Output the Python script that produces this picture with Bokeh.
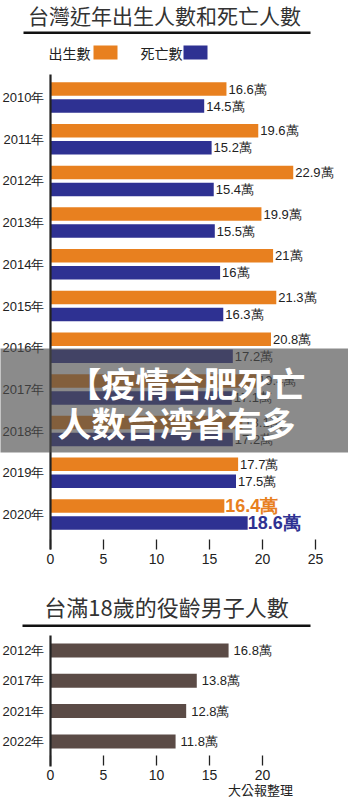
from bokeh.plotting import figure
from bokeh.layouts import column
from bokeh.models import Range1d, FixedTicker, Label, BoxAnnotation, LinearAxis
from bokeh.core.properties import value
from bokeh.embed import file_html
from bokeh.resources import INLINE

# ---------------- data ----------------
years = ["2010年", "2011年", "2012年", "2013年", "2014年", "2015年",
         "2016年", "2017年", "2018年", "2019年", "2020年"]
births = [16.6, 19.6, 22.9, 19.9, 21.0, 21.3, 20.8, 19.4, 18.1, 17.7, 16.4]
deaths = [14.5, 15.2, 15.4, 15.5, 16.0, 16.3, 17.2, 17.1, 17.2, 17.5, 18.6]
x_ticks = [0, 5, 10, 15, 20, 25]

conscript_years = ["2012年", "2017年", "2021年", "2022年"]
conscripts = [16.8, 13.8, 12.8, 11.8]
x_ticks2 = [0, 5, 10, 15, 20]

title1 = "台灣近年出生人數和死亡人數"
title2 = "台滿18歲的役齡男子人數"
legend_birth = "出生數"
legend_death = "死亡數"
source_note = "大公報整理"
overlay_lines = ["【疫情合肥死亡", "人数台湾省有多"]

ORANGE = "#e8801f"
BLUE = "#2e3192"
BROWN = "#5b4b46"
TXT = "#222222"
LAT = "Liberation Sans"
CJK = "Noto Sans CJK TC"

W = 348
PX = 10.6      # pixels per unit
X0 = 50        # pixel of x = 0


def xd(px):
    return (px - X0) / PX


def fmt(v):
    return f"{v:g}萬"


def make_axes(p, ticks, x_loc, y_bounds, cats):
    p.xgrid.visible = False
    p.ygrid.visible = False
    p.outline_line_color = None
    p.background_fill_color = "white"
    p.border_fill_color = "white"
    xa = LinearAxis(fixed_location=x_loc, ticker=FixedTicker(ticks=ticks))
    xa.axis_line_color = None
    xa.major_tick_in = 10
    xa.major_tick_out = 0
    xa.major_tick_line_color = TXT
    xa.major_tick_line_width = 1.3
    xa.minor_tick_line_color = None
    xa.major_label_standoff = 4
    xa.major_label_text_font = LAT
    xa.major_label_text_font_size = "14px"
    xa.major_label_text_color = TXT
    p.add_layout(xa, "below")
    idx = list(range(len(cats)))
    ya = LinearAxis(fixed_location=0, ticker=FixedTicker(ticks=idx), bounds=y_bounds)
    ya.major_label_overrides = {i: cats[i] for i in idx}
    ya.axis_line_color = TXT
    ya.axis_line_width = 2.2
    ya.major_tick_line_color = None
    ya.minor_tick_line_color = None
    ya.major_tick_in = 0
    ya.major_tick_out = 0
    ya.major_label_standoff = 6
    ya.major_label_text_font = LAT
    ya.major_label_text_font_size = "13px"
    ya.major_label_text_color = TXT
    p.add_layout(ya, "left")
    return idx


# ---------------- chart 1 ----------------
HB = 575
TOPB, BOTB = 74, 549
G0, GS = 97, 41.7


def yb(py):
    return (py - G0) / GS


OFF = 8.5 / GS
BH = 13.5 / GS

p1 = figure(width=W, height=HB, x_range=Range1d(xd(0), xd(W)),
            y_range=Range1d(yb(HB), yb(0)),
            output_backend="svg", toolbar_location=None,
            x_axis_location=None, y_axis_location=None,
            min_border=0)
idx = make_axes(p1, x_ticks, yb(BOTB), (yb(BOTB), yb(TOPB)), years)

yb_b = [i - OFF for i in idx]
yb_d = [i + OFF for i in idx]
p1.hbar(y=yb_b, left=0, right=births, height=BH, fill_color=ORANGE, line_color=None)
p1.hbar(y=yb_d, left=0, right=deaths, height=BH, fill_color=BLUE, line_color=None)

n = len(years) - 1
p1.text(x=births[:n], y=yb_b[:n], text=[fmt(v) for v in births[:n]], x_offset=2,
        text_baseline="middle", text_align="left", text_font=value(LAT),
        text_font_size="13px", text_color=TXT)
p1.text(x=deaths[:n], y=yb_d[:n], text=[fmt(v) for v in deaths[:n]], x_offset=2,
        text_baseline="middle", text_align="left", text_font=value(LAT),
        text_font_size="13px", text_color=TXT)
p1.text(x=births[n:], y=yb_b[n:], text=[fmt(v) for v in births[n:]], x_offset=1,
        text_baseline="middle", text_align="left", text_font=value(LAT),
        text_font_size="18px", text_font_style="bold", text_color=ORANGE)
p1.text(x=deaths[n:], y=yb_d[n:], text=[fmt(v) for v in deaths[n:]], x_offset=0,
        text_baseline="middle", text_align="left", text_font=value(LAT),
        text_font_size="18px", text_font_style="bold", text_color=BLUE)

# header
p1.add_layout(Label(x=xd(164), y=yb(14), text=title1, text_align="center",
                    text_baseline="middle", text_font=CJK, text_font_size="21px",
                    text_color="#333333"))
p1.add_layout(BoxAnnotation(left=xd(23), right=xd(310), top=yb(31), bottom=yb(33.5),
                            fill_color="#111111", fill_alpha=1, line_color=None))
p1.add_layout(Label(x=xd(48), y=yb(52), text=legend_birth, text_align="left",
                    text_baseline="middle", text_font=CJK, text_font_size="14px",
                    text_color="#222222"))
p1.add_layout(BoxAnnotation(left=xd(93), right=xd(117), top=yb(45), bottom=yb(59),
                            fill_color=ORANGE, fill_alpha=1, line_color=None))
p1.add_layout(Label(x=xd(140), y=yb(52), text=legend_death, text_align="left",
                    text_baseline="middle", text_font=CJK, text_font_size="14px",
                    text_color="#222222"))
p1.add_layout(BoxAnnotation(left=xd(183), right=xd(207), top=yb(45), bottom=yb(59),
                            fill_color=BLUE, fill_alpha=1, line_color=None))

# overlay banner
p1.add_layout(BoxAnnotation(left=xd(-10), right=xd(W + 10), top=yb(348), bottom=yb(452),
                            fill_color="#4d4d4d", fill_alpha=0.65, line_color=None,
                            level="overlay"))
p1.add_layout(Label(x=xd(67), y=yb(382), text=overlay_lines[0], text_align="left",
                    text_baseline="middle", text_font="Noto Sans CJK SC",
                    text_font_size="34px", text_font_style="bold", text_color="white",
                    level="overlay"))
p1.add_layout(Label(x=xd(57), y=yb(422), text=overlay_lines[1], text_align="left",
                    text_baseline="middle", text_font="Noto Sans CJK SC",
                    text_font_size="34px", text_font_style="bold", text_color="white",
                    level="overlay"))

# ---------------- chart 2 ----------------
HC = 800 - HB
G0C, GSC = 650, 30.3


def yc(py):
    return (py - G0C) / GSC


p2 = figure(width=W, height=HC, x_range=Range1d(xd(0), xd(W)),
            y_range=Range1d(yc(800), yc(HB)),
            output_backend="svg", toolbar_location=None,
            x_axis_location=None, y_axis_location=None,
            min_border=0)
idx2 = make_axes(p2, x_ticks2, yc(765), (yc(766), yc(635)), conscript_years)
p2.hbar(y=idx2, left=0, right=conscripts, height=14 / GSC, fill_color=BROWN, line_color=None)
p2.text(x=conscripts, y=idx2, text=[fmt(v) for v in conscripts], x_offset=5,
        text_baseline="middle", text_align="left", text_font=value(LAT),
        text_font_size="13px", text_color=TXT)

p2.add_layout(Label(x=xd(166), y=yc(605), text=title2, text_align="center",
                    text_baseline="middle", text_font=CJK, text_font_size="22px",
                    text_color="#333333"))
p2.add_layout(BoxAnnotation(left=xd(22), right=xd(310), top=yc(624), bottom=yc(626.5),
                            fill_color="#111111", fill_alpha=1, line_color=None))
p2.add_layout(Label(x=xd(260), y=yc(789), text=source_note, text_align="center",
                    text_baseline="middle", text_font=CJK, text_font_size="13px",
                    text_color=TXT))

layout = column(p1, p2, spacing=0)
open("out.html", "w").write(file_html(layout, INLINE))
